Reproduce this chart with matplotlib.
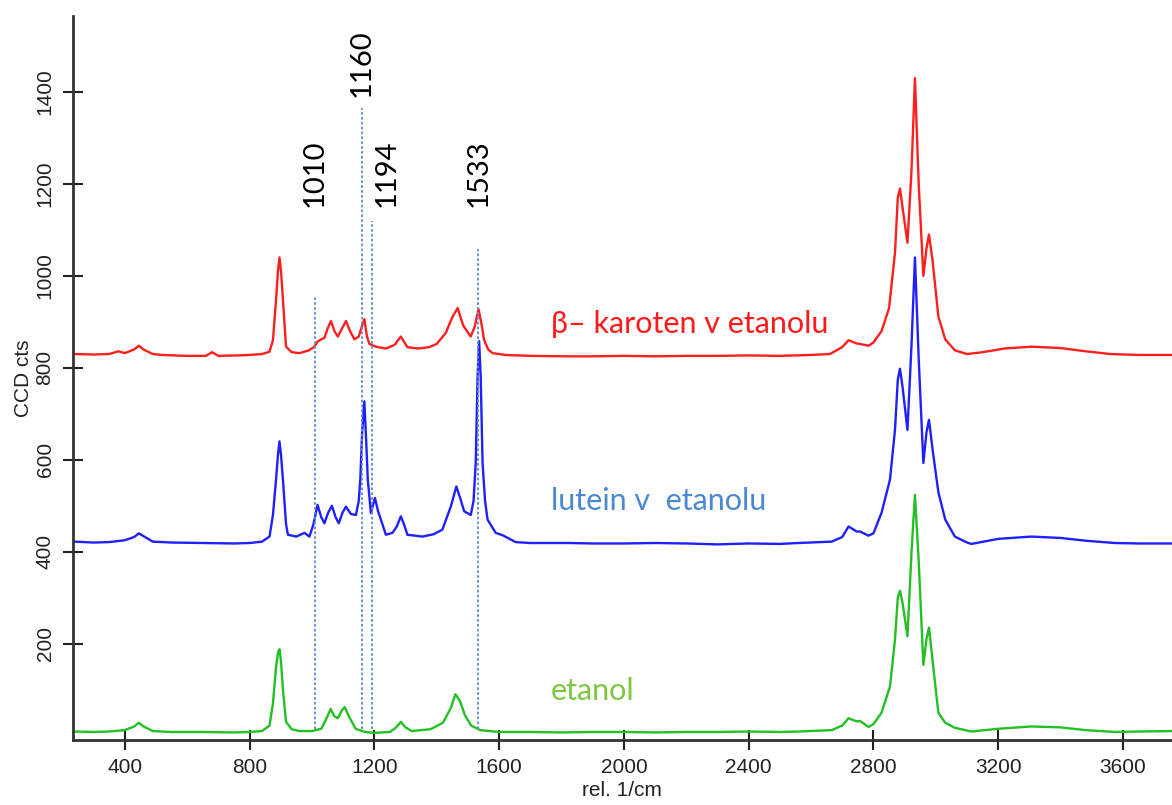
import matplotlib
matplotlib.use("Agg")
import matplotlib.pyplot as plt

# Raman spectra (CCD counts vs. Raman shift), curves offset vertically
beta_x = [240, 300, 350, 380, 400, 430, 445, 460, 490, 520, 600, 660, 680, 700, 760,
          800, 840, 864, 875, 885, 891, 896, 901, 907, 917, 935, 960, 990, 1008, 1018,
          1030, 1040, 1050, 1061, 1072, 1083, 1096, 1109, 1122, 1136, 1150, 1160, 1168,
          1176, 1184, 1205, 1237, 1265, 1285, 1306, 1340, 1376, 1400, 1429, 1450, 1467,
          1485, 1509, 1522, 1534, 1545, 1552, 1565, 1579, 1620, 1700, 1824, 1900, 2000,
          2100, 2200, 2300, 2400, 2500, 2600, 2660, 2700, 2720, 2746, 2757, 2784, 2800,
          2826, 2850, 2869, 2878, 2885, 2893, 2909, 2922, 2933, 2945, 2960, 2970, 2978,
          2990, 3008, 3030, 3061, 3100, 3150, 3220, 3306, 3400, 3480, 3560, 3650, 3760]
beta_y = [830, 829, 830, 836, 832, 840, 848, 840, 830, 828, 826, 826, 834, 826, 827,
          828, 830, 835, 860, 948, 1010, 1040, 1010, 948, 846, 834, 832, 838, 846, 857,
          862, 865, 885, 902, 880, 868, 885, 902, 880, 862, 868, 890, 906,
          870, 852, 846, 842, 850, 868, 845, 842, 845, 852, 876, 910, 930,
          892, 868, 890, 928, 890, 860, 840, 832, 828, 826, 825, 825, 826,
          825, 826, 826, 827, 826, 828, 830, 845, 860, 853, 852, 848, 855,
          880, 930, 1050, 1170, 1190, 1150, 1072, 1230, 1430, 1200, 1000, 1060, 1090,
          1030, 912, 862, 838, 830, 834, 842, 846, 843, 836, 830, 828, 828]

lutein_x = [240, 300, 350, 400, 430, 445, 460, 490, 550, 650, 750, 800, 840, 864, 875,
            885, 891, 896, 901, 907, 917, 923, 950, 976, 992, 1005, 1018, 1030, 1040,
            1052, 1064, 1076, 1086, 1098, 1109, 1125, 1141, 1150, 1155, 1161, 1168, 1174,
            1179, 1189, 1202, 1212, 1221, 1237, 1258, 1272, 1285, 1296, 1306, 1354, 1390,
            1418, 1445, 1463, 1476, 1488, 1509, 1518, 1525, 1531, 1536, 1541, 1547, 1555,
            1563, 1589, 1611, 1653, 1700, 1824, 1900, 2000, 2100, 2200, 2300, 2400, 2500,
            2560, 2666, 2700, 2720, 2746, 2757, 2784, 2800, 2826, 2853, 2869, 2878, 2885,
            2893, 2909, 2922, 2933, 2945, 2960, 2970, 2978, 2990, 3008, 3030, 3061, 3100,
            3114, 3200, 3306, 3400, 3480, 3574, 3650, 3760]
lutein_y = [422, 420, 421, 425, 432, 440, 434, 422, 420, 419, 418, 419, 422, 433, 480,
            557, 610, 640, 610, 557, 460, 437, 433, 441, 433, 460, 502, 475, 462,
            485, 500, 475, 462, 485, 498, 482, 480, 510, 557, 660, 727, 640,
            557, 484, 517, 488, 470, 437, 441, 455, 477, 458, 437, 433, 438,
            448, 498, 542, 515, 488, 480, 510, 593, 780, 858, 780, 593, 510,
            470, 441, 436, 421, 419, 419, 418, 418, 419, 418, 416, 418, 417,
            419, 422, 432, 455, 444, 444, 435, 440, 485, 557, 665, 774, 798,
            760, 665, 850, 1040, 820, 593, 660, 687, 620, 530, 470, 433, 420,
            417, 428, 433, 430, 424, 419, 418, 418]

ethanol_x = [240, 300, 350, 400, 430, 445, 460, 490, 550, 650, 750, 800, 840, 864, 875,
             885, 891, 896, 901, 907, 917, 935, 960, 1000, 1030, 1045, 1060, 1072, 1083,
             1096, 1105, 1120, 1140, 1170, 1200, 1250, 1270, 1285, 1300, 1320, 1380, 1420,
             1445, 1460, 1475, 1490, 1510, 1540, 1600, 1700, 1800, 1900, 2000, 2100, 2200,
             2300, 2400, 2500, 2560, 2666, 2700, 2720, 2746, 2757, 2784, 2800, 2826, 2853,
             2869, 2878, 2885, 2893, 2909, 2922, 2933, 2945, 2960, 2970, 2978, 2990, 3008,
             3030, 3061, 3114, 3200, 3306, 3400, 3480, 3574, 3650, 3760]
ethanol_y = [9, 8, 9, 12, 20, 28, 20, 10, 8, 8, 7, 8, 10, 22, 70,
             150, 180, 188, 160, 100, 30, 14, 10, 10, 15, 35, 58, 42, 38,
             55, 62, 40, 15, 8, 6, 8, 18, 30, 18, 10, 14, 28,
             60, 90, 75, 45, 22, 12, 8, 8, 7, 8, 8, 7, 8,
             8, 9, 8, 9, 12, 22, 38, 31, 32, 19, 25, 50, 107,
             209, 300, 315, 290, 216, 400, 524, 380, 154, 210, 235, 160, 50,
             28, 17, 9, 15, 20, 18, 12, 8, 9, 10]

# marked band positions and the height each marker line reaches
band_labels = [1010, 1160, 1194, 1533]
band_tops = [954, 1365, 1120, 1059]

fig = plt.figure(figsize=(11.72, 8.05), dpi=100)
ax = fig.add_axes([0.062, 0.081, 0.938, 0.899])

ax.plot(beta_x, beta_y, color="#ff1f1f", lw=1.7)
ax.plot(lutein_x, lutein_y, color="#1f1fff", lw=1.7)
ax.plot(ethanol_x, ethanol_y, color="#22c022", lw=1.7)

for pos, top in zip(band_labels, band_tops):
    ax.vlines(pos, 15, top, colors="#5b8fd0", lw=1.3, linestyles=(0, (1.5, 1.2)))

num_font = dict(family="Lato", fontsize=21, color="black", rotation=90,
                ha="center", va="bottom")
ax.text(1010, 1150, "1010", **num_font)
ax.text(1160, 1390, "1160", **num_font)
ax.text(1240, 1150, "1194", **num_font)
ax.text(1533, 1150, "1533", **num_font)

ax.text(1766, 876, "β– karoten v etanolu", family="Lato", fontsize=22,
        color="#ff1a1a", ha="left", va="baseline")
ax.text(1766, 491, "lutein v  etanolu", family="Lato", fontsize=22,
        color="#4a88d2", ha="left", va="baseline")
ax.text(1766, 78, "etanol", family="Lato", fontsize=22,
        color="#7cc840", ha="left", va="baseline")

ax.set_xlim(233, 3757)
ax.set_ylim(-9, 1565)
ax.set_xticks(range(400, 3601, 400))
ax.set_yticks(range(200, 1401, 200))
ax.tick_params(direction="inout", length=14, width=1.5, color="#222222",
               labelsize=15, labelcolor="#222222", pad=6)
for lab in ax.get_yticklabels():
    lab.set_rotation(90)
    lab.set_va("center")
    lab.set_family("Liberation Sans")
for lab in ax.get_xticklabels():
    lab.set_family("Liberation Sans")

for side in ["top", "right"]:
    ax.spines[side].set_visible(False)
for side in ["left", "bottom"]:
    ax.spines[side].set_linewidth(2)
    ax.spines[side].set_color("#333333")

ax.set_xlabel("rel. 1/cm", family="Liberation Sans", fontsize=15, color="#222222", labelpad=3)
ax.set_ylabel("CCD cts", family="Liberation Sans", fontsize=15, color="#222222", labelpad=2)

fig.savefig("out.png", dpi=100)
